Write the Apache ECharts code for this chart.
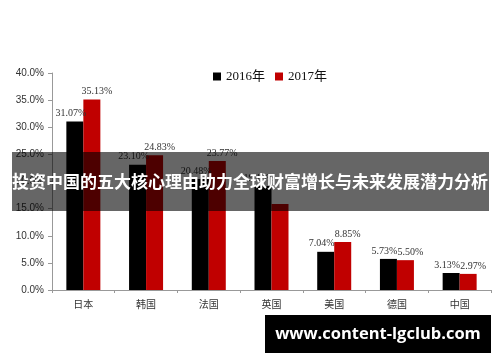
<!DOCTYPE html>
<html><head><meta charset="utf-8">
<script src="https://cdn.jsdelivr.net/npm/echarts@6/dist/echarts.min.js"></script>
<style>html,body{margin:0;padding:0;background:#fff}#c{width:500px;height:362px}</style>
</head><body><div id="c"></div>
<script>
const categories = ['日本','韩国','法国','英国','美国','德国','中国'];
const series2016 = [31.07, 23.10, 20.48, 19.19, 7.04, 5.73, 3.13];
const series2017 = [35.13, 24.83, 23.77, 15.85, 8.85, 5.50, 2.97];
const seriesNames = ['2016年','2017年'];
const yTicks = {min: 0, max: 40, interval: 5};
const bannerText = '投资中国的五大核心理由助力全球财富增长与未来发展潜力分析';
const siteText = 'www.content-lgclub.com';
const hiddenLabel2017 = 3; // label covered by banner in the reference

const chart = echarts.init(document.getElementById('c'), null, {renderer:'canvas'});
const serif = '"Liberation Serif","Noto Sans CJK SC",serif';
function lbl(dx){ return {show:true, position:'top', distance:3, offset:[dx,0], color:'#333', fontSize:10, fontFamily:serif,
  formatter: p => p.value.toFixed(2) + '%'}; }
chart.setOption({
  animation:false,
  backgroundColor:'#fff',
  legend:{left:208, top:65, itemWidth:8, itemHeight:8, itemGap:10, icon:'rect',
    textStyle:{fontSize:13, color:'#111', fontFamily:serif}, data:seriesNames},
  grid:{left:52, right:9, top:73, bottom:72},
  xAxis:{type:'category', data:categories,
    axisLine:{lineStyle:{color:'#999'}},
    axisTick:{show:true, length:3, lineStyle:{color:'#999'}},
    axisLabel:{fontSize:10, color:'#333', margin:9, fontFamily:'"Noto Sans CJK SC",sans-serif'}},
  yAxis:{type:'value', min:yTicks.min, max:yTicks.max, interval:yTicks.interval,
    splitLine:{show:false},
    axisLine:{show:true, lineStyle:{color:'#999'}},
    axisTick:{show:true, length:4, lineStyle:{color:'#999'}},
    axisLabel:{fontSize:10, color:'#333', margin:8, fontFamily:'"Liberation Sans",sans-serif',
      formatter: v => v.toFixed(1) + '%'}},
  series:[
    {name:seriesNames[0], type:'bar', data:series2016, barWidth:17, barGap:'0%',
      itemStyle:{color:'#000'}, label:lbl(-4)},
    {name:seriesNames[1], type:'bar',
      data:series2017.map((v,i) => i === hiddenLabel2017 ? {value:v, label:{show:false}} : v),
      barWidth:17, barGap:'0%',
      itemStyle:{color:'#c00000'}, label:lbl(5)}
  ],
  graphic:[
    {type:'rect', left:12, top:152, shape:{width:477, height:59}, z:100,
      style:{fill:'rgba(0,0,0,0.6)'}},
    {type:'text', x:250, y:182, z:101,
      style:{text:bannerText, fill:'#fff', fontSize:17, fontWeight:'bold', align:'center', verticalAlign:'middle',
        fontFamily:'"Noto Sans CJK SC",sans-serif'}},
    {type:'rect', left:265, top:315, shape:{width:226, height:38}, z:100,
      style:{fill:'#000'}},
    {type:'text', x:378, y:334, z:101,
      style:{text:siteText, fill:'#fff', fontSize:16.5, fontWeight:'bold', align:'center', verticalAlign:'middle',
        fontFamily:'"Open Sans","DejaVu Sans",sans-serif'}}
  ]
});
</script></body></html>
